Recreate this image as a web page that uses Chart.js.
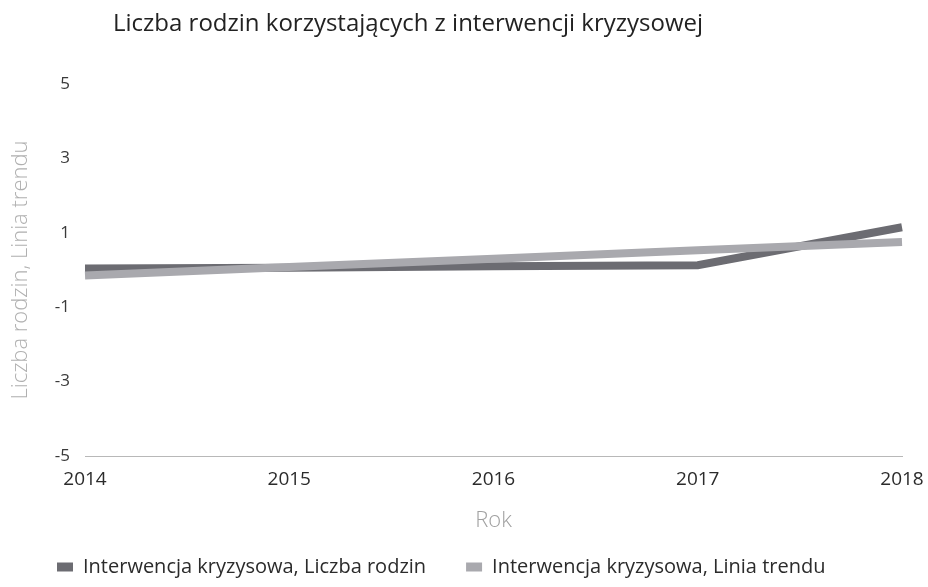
<!DOCTYPE html>
<html>
<head>
<meta charset="utf-8">
<script src="https://cdn.jsdelivr.net/npm/chart.js@4.4.1/dist/chart.umd.min.js"></script>
<style>
  html, body { margin: 0; padding: 0; background: #ffffff; }
  canvas { display: block; }
</style>
</head>
<body>
<canvas id="c" width="928" height="587"></canvas>
<script>
const chartTitle = 'Liczba rodzin korzystających z interwencji kryzysowej';
const years = ['2014', '2015', '2016', '2017', '2018'];
const familiesLabel = 'Interwencja kryzysowa, Liczba rodzin';
const familiesValues = [0.04, 0.06, 0.1, 0.13, 1.15];
const trendLabel = 'Interwencja kryzysowa, Linia trendu';
const trendValues = [-0.15, 0.08, 0.3, 0.53, 0.75];
const yTickValues = [5, 3, 1, -1, -3, -5];
const xAxisTitle = 'Rok';
const yAxisTitle = 'Liczba rodzin, Linia trendu';

const FONT = "'Open Sans', 'Noto Sans', sans-serif";

const titlePlugin = {
  id: 'customTitle',
  afterDraw(chart) {
    const ctx = chart.ctx;
    ctx.save();
    ctx.font = '24px ' + FONT;
    ctx.fillStyle = '#222222';
    ctx.textBaseline = 'middle';
    ctx.textAlign = 'left';
    ctx.fillText(chartTitle, 113, 24);
    ctx.restore();
  }
};

new Chart(document.getElementById('c'), {
  type: 'line',
  data: {
    labels: years,
    datasets: [
      {
        label: familiesLabel,
        data: familiesValues,
        borderColor: '#6c6c72',
        backgroundColor: '#6c6c72',
        borderWidth: 8,
        pointRadius: 0,
        tension: 0,
        borderCapStyle: 'butt',
        order: 1
      },
      {
        label: trendLabel,
        data: trendValues,
        borderColor: '#a9a9ae',
        backgroundColor: '#a9a9ae',
        borderWidth: 8,
        pointRadius: 0,
        tension: 0,
        borderCapStyle: 'butt',
        order: 0
      }
    ]
  },
  options: {
    responsive: false,
    devicePixelRatio: 1,
    animation: false,
    layout: { padding: { top: 84, left: 17, right: 26, bottom: 0 } },
    plugins: {
      title: { display: false },
      tooltip: { enabled: false },
      legend: {
        position: 'bottom',
        align: 'start',
        labels: {
          boxWidth: 16,
          boxHeight: 9,
          padding: 40,
          color: '#2b2b2b',
          font: { family: FONT, size: 20 },
          sort: (a, b) => a.datasetIndex - b.datasetIndex,
          generateLabels(chart) {
            const items = Chart.defaults.plugins.legend.labels.generateLabels(chart);
            items.forEach(it => { it.lineWidth = 0; });
            return items;
          }
        }
      }
    },
    scales: {
      x: {
        grid: { display: false, drawTicks: false },
        border: { display: true, color: '#b8b8b8', width: 1, dash: [2, 2] },
        ticks: {
          color: '#2b2b2b',
          font: { family: FONT, size: 19 },
          padding: 12,
          maxRotation: 0,
          autoSkip: false
        },
        title: {
          display: true,
          text: xAxisTitle,
          color: '#a0a0a0',
          font: { family: FONT, size: 22, weight: '300' },
          padding: { top: 0, bottom: -17 }
        },
        afterFit(scale) {
          scale.height = 61;
          scale.paddingRight = 0;
          scale.paddingLeft = 0;
        }
      },
      y: {
        min: -5,
        max: 5,
        grid: { display: false, drawTicks: false },
        border: { display: false },
        afterBuildTicks(scale) {
          scale.ticks = yTickValues.map(v => ({ value: v }));
        },
        ticks: {
          color: '#3a3a3a',
          font: { family: FONT, size: 17 },
          padding: 15
        },
        title: {
          display: true,
          text: yAxisTitle,
          color: '#b0b0b0',
          font: { family: FONT, size: 22, weight: '300' },
          padding: { top: -9, bottom: 0 }
        },
        afterFit(scale) { scale.width = 68; }
      }
    }
  },
  plugins: [titlePlugin]
});
</script>
</body>
</html>
